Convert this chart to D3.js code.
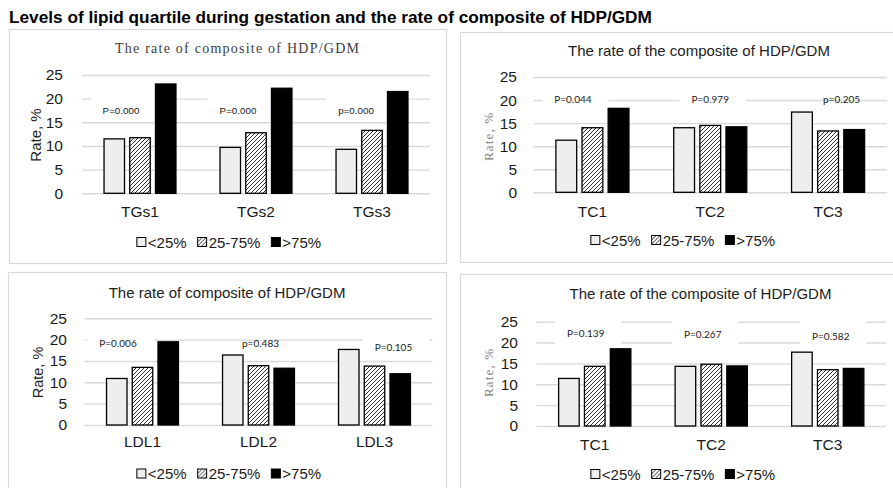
<!DOCTYPE html>
<html><head><meta charset="utf-8">
<script src="https://cdn.jsdelivr.net/npm/d3@7"></script>
<style>body{margin:0;background:#fff}svg{display:block}</style>
</head><body>
<svg id="c" width="893" height="488"></svg>
<script>
// ---------- DATA ----------
const mainTitle = "Levels of lipid quartile during gestation and the rate of composite of HDP/GDM";
const seriesNames = ["<25%", "25-75%", ">75%"];
const yTicks = [0, 5, 10, 15, 20, 25];
const yTickLabels = ["0", "5", "10", "15", "20", "25"];

const tgTitle = "The rate of composite of HDP/GDM";
const tgCats = ["TGs1", "TGs2", "TGs3"];
const tgLow  = [11.5, 9.7, 9.3];
const tgMid  = [11.75, 12.8, 13.3];
const tgHigh = [23.1, 22.2, 21.5];
const tgP    = ["P=0.000", "P=0.000", "p=0.000"];

const tcTitle = "The rate of the composite of HDP/GDM";
const tcCats = ["TC1", "TC2", "TC3"];
const tcLow  = [11.3, 14.0, 17.4];
const tcMid  = [14.0, 14.5, 13.3];
const tcHigh = [18.2, 14.2, 13.6];
const tcP    = ["P=0.044", "P=0.979", "p=0.205"];

const ldlTitle = "The rate of composite of HDP/GDM";
const ldlCats = ["LDL1", "LDL2", "LDL3"];
const ldlLow  = [10.9, 16.4, 17.7];
const ldlMid  = [13.5, 13.9, 13.8];
const ldlHigh = [19.5, 13.3, 12.0];
const ldlP    = ["P=0.006", "p=0.483", "P=0.105"];

const tc2Title = "The rate of the composite of HDP/GDM";
const tc2Cats = ["TC1", "TC2", "TC3"];
const tc2Low  = [11.4, 14.3, 17.7];
const tc2Mid  = [14.3, 14.8, 13.5];
const tc2High = [18.5, 14.4, 13.8];
const tc2P    = ["P=0.139", "P=0.267", "P=0.582"];

const yTitle = "Rate, %";

// ---------- LAYOUT ----------
const panels = [
  {title: tgTitle, cats: tgCats, vals: [tgLow, tgMid, tgHigh], p: tgP,
   box: [9, 29, 437, 234], plot: [82, 430, 75, 193.3],
   titleX: 237, titleY: 48, titleFont: "'Liberation Serif', serif", titleSize: 14, titleColor: "#404040", titleLen: 244,
   yt: {x: 35, y: 135, font: "'Liberation Sans', Arial, sans-serif", size: 15, color: "#222", len: null},
   tickRight: 63, catY: 211.7, legY: 242, legCx: 229,
   pFont: "'Liberation Sans', Arial, sans-serif", pSize: 9.8,
   pLevel: [17.5, 17.45, 17.45], pDx: [-19, -18, -16],
   pBox: [[-14, 9], [-14, 9], [-14, 9]]},
  {title: tcTitle, cats: tcCats, vals: [tcLow, tcMid, tcHigh], p: tcP,
   box: [460, 32, 440, 230], plot: [533.5, 887, 77, 192.3],
   titleX: 699, titleY: 50, titleFont: "'Liberation Sans', Arial, sans-serif", titleSize: 15, titleColor: "#222", titleLen: null,
   yt: {x: 488, y: 137, font: "'Liberation Serif', serif", size: 13, color: "#808080", len: 48},
   tickRight: 517, catY: 211.7, legY: 240, legCx: 683,
   pFont: "Lato, 'Open Sans', sans-serif", pSize: 10,
   pLevel: [20.2, 20.2, 20.2], pDx: [-19.5, 0, 13.5],
   pBox: [[-11, 11], [-11, 11], null]},
  {title: ldlTitle, cats: ldlCats, vals: [ldlLow, ldlMid, ldlHigh], p: ldlP,
   box: [8, 272, 438, 230], plot: [84.5, 432.5, 318.3, 425],
   titleX: 227, titleY: 292.3, titleFont: "'Liberation Sans', Arial, sans-serif", titleSize: 15, titleColor: "#222", titleLen: null,
   yt: {x: 38, y: 372.5, font: "'Liberation Sans', Arial, sans-serif", size: 14.5, color: "#222", len: null},
   tickRight: 67, catY: 441.7, legY: 473.5, legCx: 229,
   pFont: "Lato, 'Open Sans', sans-serif", pSize: 10,
   pLevel: [19.1, 19.1, 18.2], pDx: [-24.5, 2, 19],
   pBox: [[-12, 9], null, [-12, 9]]},
  {title: tc2Title, cats: tc2Cats, vals: [tc2Low, tc2Mid, tc2High], p: tc2P,
   box: [460, 274, 440, 230], plot: [536.5, 886, 321.7, 426],
   titleX: 700.5, titleY: 293.3, titleFont: "'Liberation Sans', Arial, sans-serif", titleSize: 15, titleColor: "#222", titleLen: null,
   yt: {x: 488, y: 373, font: "'Liberation Serif', serif", size: 13, color: "#808080", len: 48},
   tickRight: 518, catY: 444.3, legY: 474, legCx: 683,
   pFont: "Lato, 'Open Sans', sans-serif", pSize: 10,
   pLevel: [22.4, 22.0, 21.6], pDx: [-9, -8.5, 3],
   pBox: [[-16, 12], [-16, 12], [-16, 12]]}
];

const fills = ["#eeeeee", "url(#hatch)", "#000000"];
const sans = "'Liberation Sans', Arial, sans-serif";

const svg = d3.select("#c");
const defs = svg.append("defs");
const pat = defs.append("pattern").attr("id", "hatch").attr("patternUnits", "userSpaceOnUse")
  .attr("width", 4).attr("height", 4);
pat.append("rect").attr("width", 4).attr("height", 4).attr("fill", "#fff");
pat.append("path").attr("d", "M-1,1 l2,-2 M0,4 l4,-4 M3,5 l2,-2")
  .attr("stroke", "#333").attr("stroke-width", 1);

const mt = svg.append("text").text(mainTitle)
  .attr("x", 9).attr("y", 23)
  .attr("font-family", sans).attr("font-weight", "bold").attr("font-size", 14)
  .attr("fill", "#000");
const mtLen = mt.node().getComputedTextLength();
mt.attr("font-size", 14 * 643 / mtLen);

panels.forEach(P => {
  const g = svg.append("g");
  g.append("rect").attr("x", P.box[0] + 0.5).attr("y", P.box[1] + 0.5)
    .attr("width", P.box[2]).attr("height", P.box[3])
    .attr("fill", "#fff").attr("stroke", "#d9d9d9").attr("stroke-width", 1.2);

  const [x0, x1, yTop, yBot] = P.plot;
  const y = d3.scaleLinear().domain([0, 25]).range([yBot, yTop]);
  const x = d3.scaleBand().domain(P.cats).range([x0, x1]).paddingInner(0).paddingOuter(0);
  const bw = x.bandwidth();
  const gw = bw * 0.62;
  const xi = d3.scaleBand().domain(seriesNames).range([(bw - gw) / 2, (bw + gw) / 2]).paddingInner(0.204);

  // gridlines + tick labels
  const yAxis = d3.axisLeft(y).tickValues(yTicks).tickFormat((d, i) => yTickLabels[i])
    .tickSize(-(x1 - x0)).tickPadding(0);
  const ax = g.append("g").attr("transform", `translate(${x0},0)`).call(yAxis);
  ax.select(".domain").remove();
  ax.selectAll(".tick line").attr("stroke", "#d9d9d9").attr("stroke-width", 1.4);
  ax.selectAll(".tick text").attr("x", P.tickRight - x0).attr("text-anchor", "end")
    .attr("font-family", sans).attr("font-size", 15.5).attr("fill", "#1a1a1a");

  // p-value labels with background boxes
  const pg = g.append("g");
  P.p.forEach((lab, i) => {
    const cx = x(P.cats[i]) + bw / 2 + P.pDx[i];
    const cy = y(P.pLevel[i]);
    const t = pg.append("text").text(lab).attr("x", cx).attr("y", cy)
      .attr("text-anchor", "middle").attr("dominant-baseline", "central")
      .attr("font-family", P.pFont).attr("font-size", P.pSize).attr("fill", "#222");
    if (P.pBox[i]) {
      const w = t.node().getComputedTextLength();
      pg.insert("rect", "text").attr("x", cx - w / 2 - 12).attr("y", cy + P.pBox[i][0])
        .attr("width", w + 29).attr("height", P.pBox[i][1] - P.pBox[i][0]).attr("fill", "#fff");
    }
  });

  // bars
  seriesNames.forEach((s, si) => {
    g.append("g").selectAll("rect").data(P.vals[si]).join("rect")
      .attr("x", (d, i) => x(P.cats[i]) + xi(s))
      .attr("width", xi.bandwidth())
      .attr("y", d => y(d))
      .attr("height", d => y(0) - y(d))
      .attr("fill", fills[si]).attr("stroke", "#000").attr("stroke-width", 1.3);
  });

  // category axis labels
  g.append("g").selectAll("text").data(P.cats).join("text")
    .attr("x", d => x(d) + bw / 2).attr("y", P.catY).attr("dominant-baseline", "central")
    .attr("text-anchor", "middle").attr("font-family", sans).attr("font-size", 15.5).attr("fill", "#1a1a1a")
    .text(d => d);

  // titles
  const tt = g.append("text").text(P.title).attr("x", P.titleX).attr("y", P.titleY)
    .attr("text-anchor", "middle").attr("dominant-baseline", "central")
    .attr("font-family", P.titleFont).attr("font-size", P.titleSize).attr("fill", P.titleColor);
  if (P.titleLen) tt.attr("textLength", P.titleLen).attr("lengthAdjust", "spacing");
  const yt = g.append("text").text(yTitle)
    .attr("transform", `translate(${P.yt.x},${P.yt.y}) rotate(-90)`)
    .attr("text-anchor", "middle").attr("dominant-baseline", "central")
    .attr("font-family", P.yt.font).attr("font-size", P.yt.size).attr("fill", P.yt.color);
  if (P.yt.len) yt.attr("textLength", P.yt.len).attr("lengthAdjust", "spacing");

  // legend
  const lg = g.append("g");
  let cursor = 0;
  const items = [];
  seriesNames.forEach((s, si) => {
    const it = lg.append("g");
    it.append("rect").attr("x", 0).attr("y", -4.5).attr("width", 9).attr("height", 9)
      .attr("fill", fills[si]).attr("stroke", "#000").attr("stroke-width", 1);
    const t = it.append("text").text(s).attr("x", 11).attr("y", 0).attr("dominant-baseline", "central")
      .attr("font-family", sans).attr("font-size", 15).attr("fill", "#1a1a1a");
    const w = 11 + t.node().getComputedTextLength();
    items.push({it, off: cursor});
    cursor += w + 11;
  });
  const total = cursor - 11;
  items.forEach(o => o.it.attr("transform", `translate(${P.legCx - total / 2 + o.off},${P.legY})`));
});
</script>
</body></html>
